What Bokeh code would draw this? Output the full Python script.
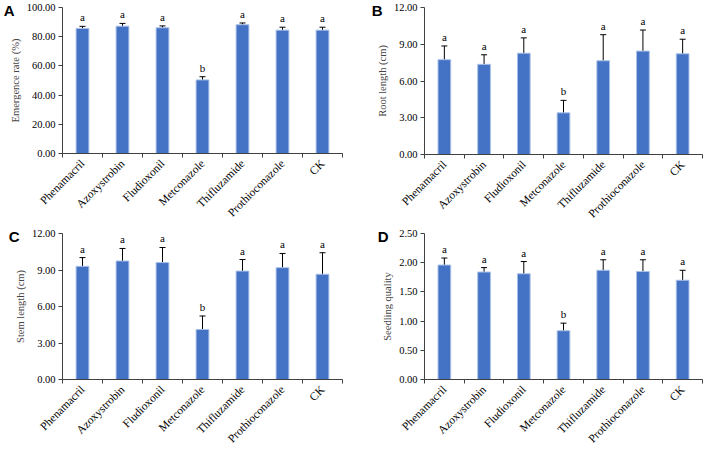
import math
from bokeh.plotting import figure
from bokeh.models import (ColumnDataSource, Range1d, FixedTicker, NumeralTickFormatter,
                          Whisker, TeeHead, LinearAxis)
from bokeh.layouts import row, column
from bokeh.embed import file_html
from bokeh.resources import INLINE
from bokeh.core.properties import value

categories = ["Phenamacril", "Azoxystrobin", "Fludioxonil", "Metconazole",
              "Thifluzamide", "Prothioconazole", "CK"]

emergence = [85.7, 87.2, 86.1, 50.4, 88.2, 84.5, 84.5]
emergence_err = [1.4, 1.9, 1.3, 2.2, 1.2, 2.0, 2.0]
emergence_sig = ["a", "a", "a", "b", "a", "a", "a"]

root = [7.74, 7.36, 8.27, 3.40, 7.65, 8.44, 8.22]
root_err = [1.12, 0.78, 1.25, 1.02, 2.13, 1.72, 1.19]
root_sig = ["a", "a", "a", "b", "a", "a", "a"]

stem = [9.30, 9.74, 9.61, 4.11, 8.91, 9.19, 8.65]
stem_err = [0.72, 1.03, 1.24, 1.11, 0.95, 1.17, 1.77]
stem_sig = ["a", "a", "a", "b", "a", "a", "a"]

quality = [1.96, 1.84, 1.81, 0.835, 1.87, 1.85, 1.70]
quality_err = [0.12, 0.076, 0.21, 0.13, 0.18, 0.20, 0.17]
quality_sig = ["a", "a", "a", "b", "a", "a", "a"]

SERIF = "Liberation Serif"
BAR = "#4472C4"


def panel(letter, vals, errs, sig, ymax, ystep, ylabel, width, height,
          bl, br, bt, bb, letter_standoff):
    n = len(categories)
    xs = [i + 0.5 for i in range(n)]
    src = ColumnDataSource(dict(
        x=xs, top=vals,
        upper=[v + e for v, e in zip(vals, errs)],
        lower=[v - e for v, e in zip(vals, errs)],
        sig=sig))
    p = figure(width=width, height=height, output_backend="svg",
               toolbar_location=None, x_range=Range1d(0, n),
               y_range=Range1d(0, ymax),
               min_border_left=bl, min_border_right=br,
               min_border_top=bt, min_border_bottom=bb)
    p.outline_line_color = None
    p.grid.visible = False
    p.background_fill_color = "white"
    p.border_fill_color = "white"

    p.vbar(x="x", top="top", width=0.32, source=src, fill_color=BAR,
           line_color="#A9C0E8", line_width=1)
    p.add_layout(Whisker(source=src, base="x", upper="upper", lower="lower",
                         line_color="black", line_width=1,
                         upper_head=TeeHead(size=6, line_color="black", line_width=1),
                         lower_head=TeeHead(size=6, line_color="black", line_width=1)))
    p.text(x="x", y="upper", text="sig", source=src, text_align="center",
           text_baseline="bottom", y_offset=-3, text_font=value(SERIF),
           text_font_size="11px", text_color="black")

    # y axis
    yticks = []
    t = 0.0
    while t <= ymax + 1e-9:
        yticks.append(round(t, 6))
        t += ystep
    p.yaxis.ticker = FixedTicker(ticks=yticks)
    p.yaxis.formatter = NumeralTickFormatter(format="0.00")
    p.yaxis.minor_tick_line_color = None
    p.yaxis.major_tick_in = 0
    p.yaxis.major_tick_out = 4
    p.yaxis.axis_label = ylabel
    p.yaxis.axis_label_text_font = SERIF
    p.yaxis.axis_label_text_font_style = "normal"
    p.yaxis.axis_label_text_font_size = "10.5px"
    p.yaxis.axis_label_standoff = 3
    p.yaxis.major_label_standoff = 3
    p.yaxis.major_label_text_font = SERIF
    p.yaxis.major_label_text_font_size = "10.5px"
    p.yaxis.major_label_text_color = "black"
    p.yaxis.axis_line_color = "#404040"
    p.yaxis.major_tick_line_color = "#404040"

    # x axis: labels at centers, ticks at boundaries
    p.xaxis.ticker = FixedTicker(ticks=xs, minor_ticks=list(range(n + 1)))
    p.xaxis.major_label_overrides = {x: c for x, c in zip(xs, categories)}
    p.xaxis.major_label_orientation = math.pi / 4
    p.xaxis.major_tick_in = 0
    p.xaxis.major_tick_out = 0
    p.xaxis.minor_tick_in = 0
    p.xaxis.minor_tick_out = 4
    p.xaxis.minor_tick_line_color = "#404040"
    p.xaxis.major_label_standoff = 4
    p.xaxis.major_label_text_font = SERIF
    p.xaxis.major_label_text_font_size = "11.5px"
    p.xaxis.major_label_text_color = "black"
    p.xaxis.axis_line_color = "#404040"

    # panel letter, drawn as the only label of an extra (line-less) left axis
    letter_axis = LinearAxis(
        ticker=FixedTicker(ticks=[ymax]),
        major_label_overrides={ymax: letter},
        axis_line_color=None, major_tick_line_color=None,
        minor_tick_line_color=None, major_tick_in=0, major_tick_out=0,
        major_label_standoff=letter_standoff,
        major_label_text_font="Liberation Sans",
        major_label_text_font_style="bold",
        major_label_text_font_size="15px",
        major_label_text_color="black")
    p.add_layout(letter_axis, "left")
    return p


pa = panel("A", emergence, emergence_err, emergence_sig, 100, 20,
           "Emergence rate (%)", 368, 226, 59, 6, 7, 73, -8)
pb = panel("B", root, root_err, root_sig, 12, 3,
           "Root length (cm)", 340, 226, 54, 6, 7, 71, -9)
pc = panel("C", stem, stem_err, stem_sig, 12, 3,
           "Stem length (cm)", 368, 225, 59, 26, 7, 64, -8)
pd_ = panel("D", quality, quality_err, quality_sig, 2.5, 0.5,
            "Seedling quality", 340, 225, 54, 6, 7, 64, -9)

layout = row(column(pa, pc), column(pb, pd_))

open("out.html", "w").write(file_html(layout, INLINE))
